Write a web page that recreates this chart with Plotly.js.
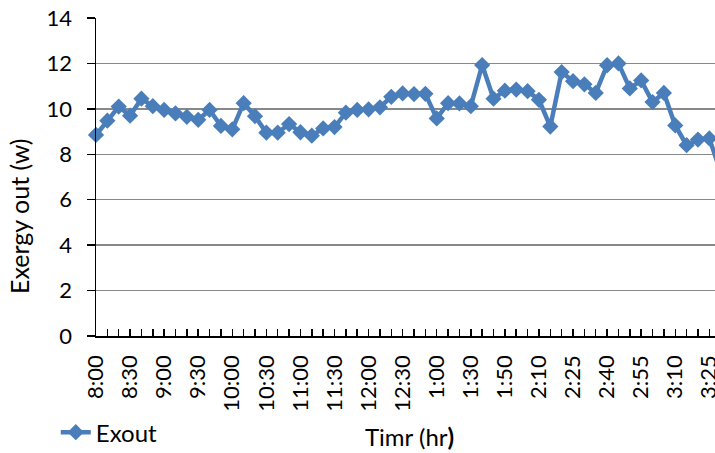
<!DOCTYPE html>
<html>
<head>
<meta charset="utf-8">
<script src="https://cdn.plot.ly/plotly-3.0.1.min.js"></script>
<style>
  html, body { margin: 0; padding: 0; background: #ffffff; }
  #chart { width: 715px; height: 453px; }
</style>
</head>
<body>
<div id="chart"></div>
<script>
// Time categories (only every third one is labelled on the axis)
const categories = [
  '8:00','8:10','8:20','8:30','8:40','8:50','9:00','9:10','9:20','9:30',
  '9:40','9:50','10:00','10:10','10:20','10:30','10:40','10:50','11:00','11:10',
  '11:20','11:30','11:40','11:50','12:00','12:10','12:20','12:30','12:40','12:50',
  '1:00','1:10','1:20','1:30','1:40','1:45','1:50','1:55','2:00','2:10',
  '2:15','2:20','2:25','2:30','2:35','2:40','2:45','2:50','2:55','3:00',
  '3:05','3:10','3:15','3:20','3:25','3:30'
];

// Exergy out (w)
const exout = [
  8.85, 9.48, 10.10, 9.70, 10.45, 10.12, 9.95, 9.80, 9.65, 9.52,
  9.95, 9.25, 9.10, 10.25, 9.68, 8.95, 8.95, 9.33, 8.97, 8.82,
  9.14, 9.20, 9.83, 9.95, 9.98, 10.07, 10.53, 10.68, 10.65, 10.66,
  9.58, 10.25, 10.24, 10.12, 11.93, 10.45, 10.80, 10.85, 10.78, 10.40,
  9.22, 11.62, 11.22, 11.08, 10.70, 11.92, 12.00, 10.90, 11.25, 10.30,
  10.70, 9.27, 8.40, 8.65, 8.70, 7.22
];

// Labels shown on the category axis
const tickLabels = [
  '8:00','8:30','9:00','9:30','10:00','10:30','11:00','11:30','12:00','12:30',
  '1:00','1:30','1:50','2:10','2:25','2:40','2:55','3:10','3:25'
];

const blue = '#4a7ebb';
const fontFamily = 'Lato, "Open Sans", sans-serif';

const trace = {
  type: 'scatter',
  mode: 'lines+markers',
  name: 'Exout',
  x: categories,
  y: exout,
  line: { color: blue, width: 4.5 },
  marker: { symbol: 'diamond', size: 12.5, color: blue },
  cliponaxis: false
};

const layout = {
  width: 715,
  height: 453,
  paper_bgcolor: '#ffffff',
  plot_bgcolor: '#ffffff',
  font: { family: fontFamily, color: '#000000', size: 22 },
  margin: { l: 96, r: 0, t: 18, b: 117, pad: 0 },
  showlegend: true,
  legend: {
    orientation: 'h',
    x: 0.078, xref: 'container', xanchor: 'left',
    y: 0.045, yref: 'container', yanchor: 'middle',
    font: { family: fontFamily, size: 24, color: '#000000' },
    bgcolor: 'rgba(0,0,0,0)'
  },
  xaxis: {
    type: 'category',
    range: [0, 54.5],
    tickmode: 'array',
    tickvals: categories,
    ticktext: categories.map(c => tickLabels.includes(c) ? c : ''),
    tickangle: -90,
    ticks: 'inside',
    ticklen: 7,
    tickwidth: 1.5,
    tickcolor: '#000000',
    ticklabelstandoff: 9,
    showline: true,
    linecolor: '#000000',
    linewidth: 1.5,
    showgrid: false,
    zeroline: false,
    tickfont: { family: fontFamily, size: 22, color: '#000000' }
  },
  yaxis: {
    range: [0, 14],
    dtick: 2,
    ticks: 'outside',
    ticklen: 8,
    tickwidth: 1.5,
    tickcolor: '#000000',
    ticklabelstandoff: 10,
    showline: true,
    linecolor: '#000000',
    linewidth: 1.5,
    showgrid: true,
    gridcolor: '#888888',
    gridwidth: 1.4,
    zeroline: false,
    tickfont: { family: fontFamily, size: 22, color: '#000000' }
  },
  annotations: [
    {
      text: 'Timr (hr<b>)</b>',
      xref: 'paper', yref: 'paper',
      x: 0.5057, y: -0.3176,
      xanchor: 'center', yanchor: 'middle',
      showarrow: false,
      font: { family: fontFamily, size: 24, color: '#000000' }
    },
    {
      text: 'Exergy out (w)',
      textangle: -90,
      xref: 'paper', yref: 'paper',
      x: -0.1244, y: 0.3774,
      xanchor: 'center', yanchor: 'middle',
      showarrow: false,
      font: { family: fontFamily, size: 25, color: '#000000' }
    }
  ]
};

Plotly.newPlot('chart', [trace], layout, { displayModeBar: false, staticPlot: true });
</script>
</body>
</html>
